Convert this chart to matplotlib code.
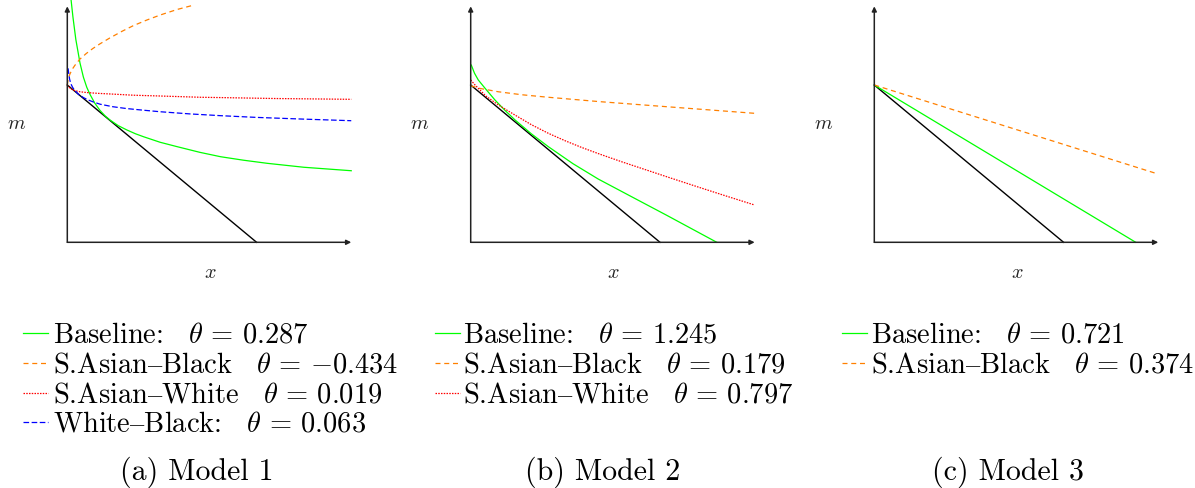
import matplotlib
matplotlib.use("Agg")
import matplotlib.pyplot as plt
from matplotlib.lines import Line2D

plt.rcParams['font.family'] = ['cmr10', 'DejaVu Serif']
plt.rcParams['mathtext.fontset'] = 'cm'
plt.rcParams['axes.formatter.use_mathtext'] = True

# budget line, same in all three models
budget_x = [0, 1]
budget_y = [1, 0]

# model 1
m1_base_x = [0.020, 0.030, 0.045, 0.067, 0.085, 0.103, 0.120, 0.145, 0.173, 0.200, 0.226, 0.270, 0.315,
             0.360, 0.403, 0.490, 0.580, 0.700, 0.810, 0.930, 1.057, 1.250, 1.500]
m1_base_y = [1.540, 1.430, 1.290, 1.140, 1.050, 0.985, 0.940, 0.885, 0.838, 0.803, 0.777, 0.741, 0.714,
             0.690, 0.671, 0.636, 0.608, 0.572, 0.544, 0.522, 0.502, 0.477, 0.455]
m1_sab_x = [0.0, 0.005, 0.014, 0.025, 0.040, 0.067, 0.100, 0.135, 0.173, 0.226, 0.290, 0.350, 0.420, 0.491, 0.580, 0.668]
m1_sab_y = [1.0, 1.040, 1.070, 1.098, 1.125, 1.165, 1.200, 1.232, 1.262, 1.300, 1.342, 1.378, 1.413, 1.445, 1.480, 1.508]
m1_saw_x = [0.0, 0.010, 0.020, 0.040, 0.067, 0.103, 0.160, 0.226, 0.350, 0.491, 0.703, 0.810, 1.100, 1.500]
m1_saw_y = [1.0, 0.985, 0.975, 0.964, 0.957, 0.952, 0.947, 0.943, 0.935, 0.930, 0.922, 0.920, 0.914, 0.909]
m1_wb_x = [0.004, 0.008, 0.012, 0.018, 0.028, 0.040, 0.060, 0.085, 0.110, 0.138, 0.173, 0.240, 0.315, 0.400,
           0.491, 0.650, 0.810, 1.000, 1.250, 1.500]
m1_wb_y = [1.106, 1.070, 1.038, 1.010, 0.985, 0.965, 0.940, 0.920, 0.905, 0.892, 0.878, 0.862, 0.850, 0.840,
           0.830, 0.816, 0.805, 0.794, 0.783, 0.773]

# model 2
m2_base_x = [0.003, 0.020, 0.040, 0.076, 0.128, 0.180, 0.234, 0.320, 0.410, 0.540, 0.674, 0.859, 1.035, 1.300]
m2_base_y = [1.127, 1.075, 1.032, 0.979, 0.905, 0.840, 0.778, 0.690, 0.608, 0.500, 0.402, 0.284, 0.172, 0.0]
m2_sab_x = [0.0, 0.050, 0.146, 0.270, 0.410, 0.683, 1.035, 1.500]
m2_sab_y = [0.995, 0.978, 0.957, 0.938, 0.922, 0.894, 0.862, 0.820]
m2_saw_x = [0.0, 0.023, 0.080, 0.146, 0.234, 0.320, 0.410, 0.500, 0.586, 0.683, 0.800, 0.900, 1.035,
            1.200, 1.350, 1.500]
m2_saw_y = [1.032, 1.0, 0.930, 0.873, 0.809, 0.748, 0.693, 0.645, 0.603, 0.560, 0.511, 0.471, 0.417,
            0.352, 0.294, 0.237]

# model 3
m3_base_x = [0, 1.381]
m3_base_y = [1, 0]
m3_sab_x = [0, 1.483]
m3_sab_y = [1, 0.440]

DASH = "$\\mathrm{\u2013}$"
labels1 = ["Baseline:$\\quad\\theta\\,=\\,0.287$",
           "S.Asian" + DASH + "Black$\\quad\\theta\\,=\\,{-}0.434$",
           "S.Asian" + DASH + "White$\\quad\\theta\\,=\\,0.019$",
           "White" + DASH + "Black:$\\quad\\theta\\,=\\,0.063$"]
labels2 = ["Baseline:$\\quad\\theta\\,=\\,1.245$",
           "S.Asian" + DASH + "Black$\\quad\\theta\\,=\\,0.179$",
           "S.Asian" + DASH + "White$\\quad\\theta\\,=\\,0.797$"]
labels3 = ["Baseline:$\\quad\\theta\\,=\\,0.721$",
           "S.Asian" + DASH + "Black$\\quad\\theta\\,=\\,0.374$"]
captions = ["(a) Model 1", "(b) Model 2", "(c) Model 3"]

GREEN = '#00ff00'
ORANGE = '#ff8000'
RED = '#ff0000'
BLUE = '#0000ff'
sty = {
    'base': dict(color=GREEN, lw=0.9, ls='-'),
    'sab': dict(color=ORANGE, lw=0.9, ls=(0, (4.0, 3.0))),
    'saw': dict(color=RED, lw=0.9, ls=(0, (1.2, 1.0))),
    'wb': dict(color=BLUE, lw=0.9, ls=(0, (4.5, 2.0))),
}
keys1 = ['base', 'sab', 'saw', 'wb']
keys2 = ['base', 'sab', 'saw']
keys3 = ['base', 'sab']

W, H = 1195, 488
fig = plt.figure(figsize=(W / 100, H / 100), dpi=100)

ux, uy, oy = 189.3, 157.3, 242.3
origins = [67.3, 470.7, 874.3]
xlim = (-0.08, 1.56)
ylim = (-0.05, 1.541)


def make_axes(ox):
    left = ox + xlim[0] * ux
    right = ox + xlim[1] * ux
    bot = oy - ylim[0] * uy
    top = oy - ylim[1] * uy
    ax = fig.add_axes([left / W, (H - bot) / H, (right - left) / W, (bot - top) / H])
    ax.set_xlim(*xlim)
    ax.set_ylim(*ylim)
    ax.axis('off')
    ap = dict(arrowstyle='-|>', color='#222222', lw=1.1, shrinkA=0, shrinkB=0, mutation_scale=7)
    ax.annotate('', xy=(1.5, 0), xytext=(0, 0), arrowprops=ap)
    ax.annotate('', xy=(0, 1.5), xytext=(0, 0), arrowprops=ap)
    ax.plot(budget_x, budget_y, color='black', lw=1.0)
    ax.text(-0.27, 0.752, '$m$', fontsize=14.5, ha='center', va='center', color='#222222')
    ax.text(0.753, -0.195, '$x$', fontsize=14.5, ha='center', va='center', color='#222222')
    return ax


ax1 = make_axes(origins[0])
ax1.plot(m1_base_x, m1_base_y, **sty['base'])
ax1.plot(m1_sab_x, m1_sab_y, **sty['sab'])
ax1.plot(m1_saw_x, m1_saw_y, **sty['saw'])
ax1.plot(m1_wb_x, m1_wb_y, **sty['wb'])

ax2 = make_axes(origins[1])
ax2.plot(m2_base_x, m2_base_y, **sty['base'])
ax2.plot(m2_sab_x, m2_sab_y, **sty['sab'])
ax2.plot(m2_saw_x, m2_saw_y, **sty['saw'])

ax3 = make_axes(origins[2])
ax3.plot(m3_base_x, m3_base_y, **sty['base'])
ax3.plot(m3_sab_x, m3_sab_y, **sty['sab'])

# legends drawn by hand so that the rows sit evenly like the LaTeX ones
handle_x = [(22.7, 48.3), (435.0, 460.0), (841.7, 866.7)]
text_x = [52.7, 463.3, 871.0]
base0, row_gap = 342.7, 29.7
for keys, labs, (hx0, hx1), tx in zip([keys1, keys2, keys3], [labels1, labels2, labels3], handle_x, text_x):
    for i, (k, lab) in enumerate(zip(keys, labs)):
        yb = base0 + i * row_gap
        yh = 1 - (yb - 9.5) / H
        fig.add_artist(Line2D([hx0 / W, hx1 / W], [yh, yh], transform=fig.transFigure, **sty[k]))
        fig.text(tx / W, 1 - yb / H, lab, fontsize=20.5, ha='left', va='baseline')

cap_x = [197, 603, 1008]
for cx, cap in zip(cap_x, captions):
    fig.text(cx / W, 1 - 479.3 / H, cap, fontsize=21.5, ha='center', va='baseline')

fig.savefig('out.png', dpi=100)
